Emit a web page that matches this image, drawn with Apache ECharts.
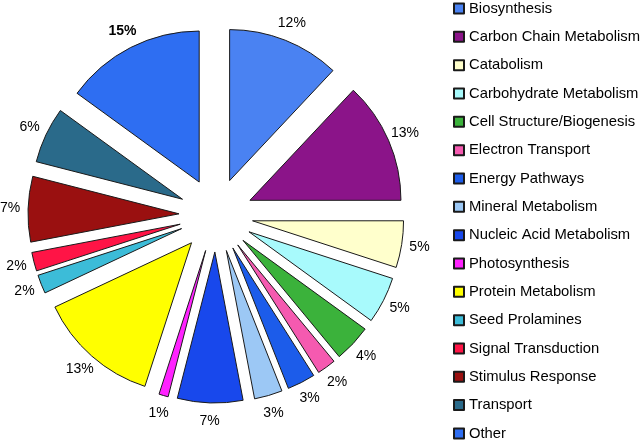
<!DOCTYPE html>
<html>
<head>
<meta charset="utf-8">
<script src="https://cdn.jsdelivr.net/npm/echarts@6/dist/echarts.min.js"></script>
<style>
html,body{margin:0;padding:0;background:#fff;}
#chart{width:640px;height:441px;}
</style>
</head>
<body>
<div id="chart"></div>
<script>
const categories = ['Biosynthesis','Carbon Chain Metabolism','Catabolism','Carbohydrate Metabolism','Cell Structure/Biogenesis','Electron Transport','Energy Pathways','Mineral Metabolism','Nucleic Acid Metabolism','Photosynthesis','Protein Metabolism','Seed Prolamines','Signal Transduction','Stimulus Response','Transport','Other'];
const percents = [12,13,5,5,4,2,3,3,7,1,13,2,2,7,6,15];
const colors = ['#4a82f2','#8b1489','#ffffcc','#a8fafc','#3bb23b','#f55ab0','#1c5cea','#9cc8f5','#1848ec','#ff22ff','#ffff00','#3cbcd8','#ff1446','#9a1010','#2a6a8a','#2e6ef2'];
const boldLabels = ['Other'];

const font = "'Liberation Sans', Arial, sans-serif";
const mainData = categories.map((n,i)=>({name:n,value:percents[i],selected:true,itemStyle:{color:colors[i]}}));
const labelData = categories.map((n,i)=>({name:n,value:percents[i],label:{fontWeight: boldLabels.includes(n)?'bold':'normal'}}));

const chart = echarts.init(document.getElementById('chart'));
chart.setOption({
  animation:false,
  backgroundColor:'#fff',
  legend:{
    orient:'vertical', left:453, top:1, height:480, padding:0,
    itemWidth:10, itemHeight:10, itemGap:13.33,
    icon:'rect',
    selectedMode:false,
    data:categories,
    textStyle:{fontFamily:font,fontSize:14.8,color:'#000',lineHeight:15}
  },
  series:[
    {
      type:'pie', name:'main',
      center:[216,215], radius:151,
      startAngle:90, clockwise:true,
      selectedMode:'multiple', selectedOffset:37,
      label:{show:false}, labelLine:{show:false},
      itemStyle:{borderColor:'#1a1a1a',borderWidth:1},
      emphasis:{disabled:true},
      data:mainData
    },
    {
      type:'pie', name:'labels', silent:true, legendHoverLink:false,
      center:[216,215], radius:[193,213],
      startAngle:90, clockwise:true,
      itemStyle:{color:'rgba(0,0,0,0)',borderWidth:0},
      label:{show:true,position:'inside',formatter:'{c}%',color:'#000',fontFamily:font,fontSize:14},
      labelLine:{show:false},
      emphasis:{disabled:true},
      data:labelData
    }
  ]
});
</script>
</body>
</html>
